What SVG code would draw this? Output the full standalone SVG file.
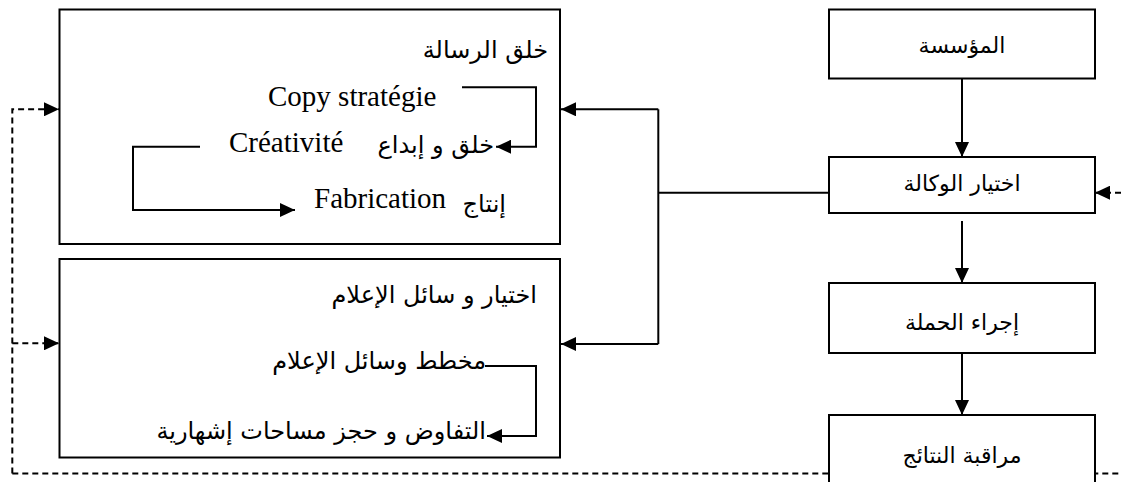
<svg xmlns="http://www.w3.org/2000/svg" width="1121" height="482" viewBox="0 0 1121 482">
  <defs>
    <marker id="ah" markerWidth="15" markerHeight="14" refX="15" refY="7" orient="auto" markerUnits="userSpaceOnUse">
      <path d="M0,0 L15,7 L0,14 Z" fill="#000"/>
    </marker>
  </defs>
  <style>
    .box { fill: #fff; stroke: #000; stroke-width: 2; }
    .ln { fill: none; stroke: #000; stroke-width: 2; }
    .dash { fill: none; stroke: #000; stroke-width: 2; stroke-dasharray: 6 4; }
    .lat { font-family: "Liberation Serif", "Times New Roman", serif; font-size: 29px; fill: #000; }
    .ar { font-family: "DejaVu Sans", "Noto Sans", sans-serif; font-size: 24px; fill: #000; }
    .arc { font-family: "DejaVu Sans", "Noto Sans", sans-serif; font-size: 22px; fill: #000; text-anchor: middle; }
  </style>

  <rect width="1121" height="482" fill="#fff"/>

  <!-- connectors -->
  <g id="connectors">
    <!-- feedback loop (dashed) -->
    <path class="dash" d="M12.3,473.5 H1121"/>
    <path class="dash" d="M12.3,473.5 V109.3 H59" marker-end="url(#ah)"/>
    <path class="dash" d="M12.3,343.3 H59" marker-end="url(#ah)"/>
    <path class="dash" d="M1121,192.7 H1095" marker-end="url(#ah)"/>
    <!-- main chain -->
    <path class="ln" d="M962,79 V157" marker-end="url(#ah)"/>
    <path class="ln" d="M962,221 V283" marker-end="url(#ah)"/>
    <path class="ln" d="M962,353 V415" marker-end="url(#ah)"/>
    <!-- agency to the two work blocks -->
    <path class="ln" d="M829,192.7 H658.3"/>
    <path class="ln" d="M658.3,109.3 V344"/>
    <path class="ln" d="M658.3,109.3 H561" marker-end="url(#ah)"/>
    <path class="ln" d="M658.3,344 H561" marker-end="url(#ah)"/>
  </g>

  <!-- message creation block -->
  <g id="message">
    <rect class="box" x="59.5" y="9.5" width="500.5" height="234.5"/>
    <text class="ar" x="548" y="58" text-anchor="end">خلق الرسالة</text>
    <text class="lat" x="268" y="106">Copy stratégie</text>
    <text class="lat" x="229" y="152">Créativité</text>
    <text class="ar" x="494" y="153" text-anchor="end">خلق و إبداع</text>
    <text class="lat" x="314" y="208">Fabrication</text>
    <text class="ar" x="506" y="212" text-anchor="end" font-size="21">إنتاج</text>
    <path class="ln" d="M462,87.3 H536 V146.7 H496" marker-end="url(#ah)"/>
    <path class="ln" d="M200,146.7 H133 V210 H295" marker-end="url(#ah)"/>
  </g>

  <!-- media selection block -->
  <g id="media">
    <rect class="box" x="59.5" y="259" width="500.5" height="198.5"/>
    <text class="ar" x="537" y="303" text-anchor="end">اختيار و سائل الإعلام</text>
    <text class="ar" x="486" y="369" text-anchor="end">مخطط وسائل الإعلام</text>
    <text class="ar" x="486" y="439" text-anchor="end">التفاوض و حجز مساحات إشهارية</text>
    <path class="ln" d="M485,366 H536 V436 H487" marker-end="url(#ah)"/>
  </g>

  <!-- right-hand process chain -->
  <g id="company">
    <rect class="box" x="829" y="9.5" width="266" height="69"/>
    <text class="arc" x="962" y="53">المؤسسة</text>
  </g>
  <g id="agency">
    <rect class="box" x="829" y="157" width="266" height="56"/>
    <text class="arc" x="962" y="191">اختيار الوكالة</text>
  </g>
  <g id="campaign">
    <rect class="box" x="829" y="283" width="266" height="70"/>
    <text class="arc" x="962" y="330">إجراء الحملة</text>
  </g>
  <g id="control">
    <rect class="box" x="829" y="415" width="266" height="80"/>
    <text class="arc" x="962" y="463">مراقبة النتائج</text>
  </g>
</svg>
